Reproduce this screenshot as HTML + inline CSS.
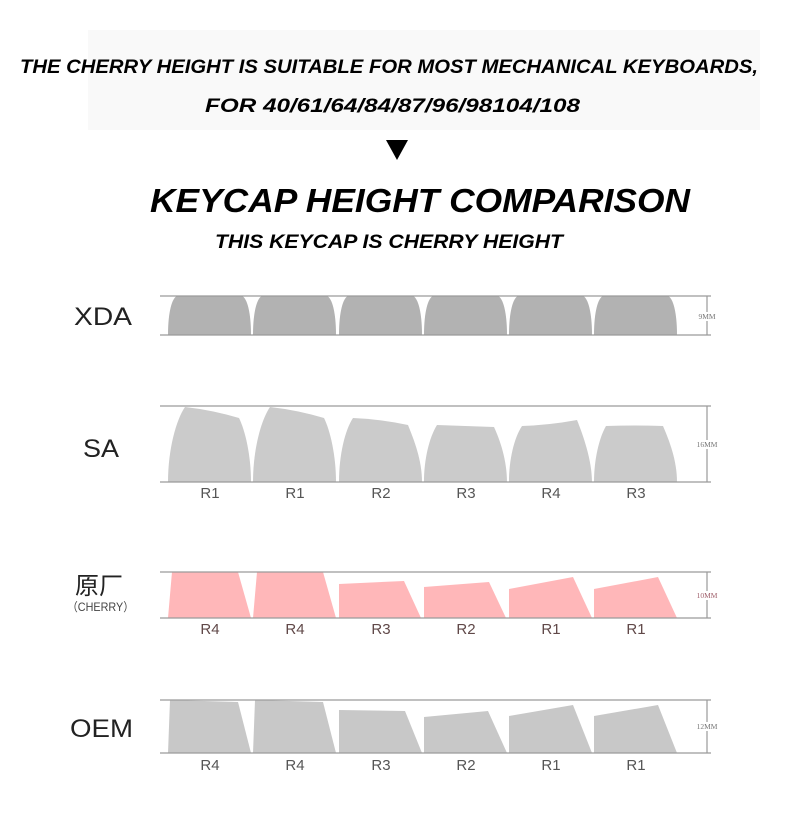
<!DOCTYPE html>
<html><head><meta charset="utf-8"><style>html,body{margin:0;padding:0;background:#fff}svg{display:block}</style></head>
<body>
<svg width="790" height="833" viewBox="0 0 790 833" xmlns="http://www.w3.org/2000/svg">
<rect x="88" y="30" width="672" height="100" fill="#f9f9f9"/>
<g font-family="Liberation Sans, sans-serif" font-weight="bold" font-style="italic" fill="#000">
<text x="20" y="73" font-size="19" textLength="738" lengthAdjust="spacingAndGlyphs">THE CHERRY HEIGHT IS SUITABLE FOR MOST MECHANICAL KEYBOARDS,</text>
<text x="205" y="112" font-size="19" textLength="375" lengthAdjust="spacingAndGlyphs">FOR 40/61/64/84/87/96/98104/108</text>
<text x="150" y="212" font-size="33" textLength="540" lengthAdjust="spacingAndGlyphs">KEYCAP HEIGHT COMPARISON</text>
<text x="215" y="248" font-size="19" textLength="348" lengthAdjust="spacingAndGlyphs">THIS KEYCAP IS CHERRY HEIGHT</text>
</g>
<polygon points="386,140 408,140 397,160" fill="#000"/>

<g font-family="Liberation Sans, sans-serif" fill="#222">
<text x="74" y="325" font-size="25" textLength="58" lengthAdjust="spacingAndGlyphs">XDA</text>
<text x="83" y="457" font-size="25" textLength="36" lengthAdjust="spacingAndGlyphs">SA</text>
<text x="75" y="594" font-size="24" font-family="Liberation Sans, Noto Sans CJK SC, sans-serif">原厂</text>
<text x="67" y="611" font-size="12" fill="#444" font-family="Liberation Sans, Noto Sans CJK SC, sans-serif" textLength="67" lengthAdjust="spacingAndGlyphs">（CHERRY）</text>
<text x="70" y="737" font-size="25" textLength="63" lengthAdjust="spacingAndGlyphs">OEM</text>
</g>

<!-- XDA -->
<g fill="#b2b2b2">
<path id="x1" d="M168,335 C168,312 172,298 177,296 L242,296 C247,298 251,312 251,335 Z"/>
<use href="#x1" x="85"/><use href="#x1" x="171"/><use href="#x1" x="256"/><use href="#x1" x="341"/><use href="#x1" x="426"/>
</g>
<!-- SA -->
<g fill="#cbcbcb">
<path d="M168,482 C168,450 176,420 185,407 Q212,410 239,418 C245,430 251,455 251,482 Z"/>
<path d="M253,482 C253,450 261,420 270,407 Q297,410 324,418 C330,430 336,455 336,482 Z"/>
<path d="M339,482 C339,455 345,430 353,418 Q380,419 408,425 C414,440 422,460 422,482 Z"/>
<path d="M424,482 C424,460 429,438 437,425 Q465,426 494,427 C500,440 507,460 507,482 Z"/>
<path d="M509,482 C509,460 514,438 522,426 Q550,425 577,420 C583,435 592,460 592,482 Z"/>
<path d="M594,482 C594,460 599,438 606,426 Q635,425 663,426 C669,440 677,460 677,482 Z"/>
</g>
<!-- Cherry -->
<g fill="#ffb7b9">
<polygon points="168,618 172,572 238,572 251,618"/>
<polygon points="253,618 257,572 323,572 336,618"/>
<polygon points="339,618 339,584 404,581 421,618"/>
<polygon points="424,618 424,587 489,582 506,618"/>
<polygon points="509,618 509,589 573,577 592,618"/>
<polygon points="594,618 594,589 658,577 677,618"/>
</g>
<!-- OEM -->
<g fill="#c8c8c8">
<polygon points="168,753 170,700 238,702 251,753"/>
<polygon points="253,753 255,700 323,702 336,753"/>
<polygon points="339,753 339,710 405,711 422,753"/>
<polygon points="424,753 424,717 488,711 507,753"/>
<polygon points="509,753 509,716 573,705 592,753"/>
<polygon points="594,753 594,716 658,705 677,753"/>
</g>

<g stroke="#9a9a9a" stroke-width="1.2">
<line x1="160" y1="296" x2="711" y2="296"/><line x1="160" y1="335" x2="711" y2="335"/><line x1="707" y1="296" x2="707" y2="335"/>
<line x1="160" y1="406" x2="711" y2="406"/><line x1="160" y1="482" x2="711" y2="482"/><line x1="707" y1="406" x2="707" y2="482"/>
<line x1="160" y1="572" x2="711" y2="572"/><line x1="160" y1="618" x2="711" y2="618"/><line x1="707" y1="572" x2="707" y2="618"/>
<line x1="160" y1="700" x2="711" y2="700"/><line x1="160" y1="753" x2="711" y2="753"/><line x1="707" y1="700" x2="707" y2="753"/>
</g>
<g font-family="Liberation Serif, serif" font-size="7.5" text-anchor="middle">
<rect x="695" y="312" width="24" height="9" fill="#fff"/><text x="707" y="319" fill="#777">9MM</text>
<rect x="693" y="440" width="28" height="9" fill="#fff"/><text x="707" y="447" fill="#777">16MM</text>
<rect x="693" y="591" width="28" height="9" fill="#fff"/><text x="707" y="598" fill="#a0606c">10MM</text>
<rect x="693" y="722" width="28" height="9" fill="#fff"/><text x="707" y="729" fill="#777">12MM</text>
</g>

<g font-family="Liberation Sans, sans-serif" font-size="15" fill="#555" text-anchor="middle">
<text x="210" y="498">R1</text><text x="295" y="498">R1</text><text x="381" y="498">R2</text><text x="466" y="498">R3</text><text x="551" y="498">R4</text><text x="636" y="498">R3</text>
<text x="210" y="634" fill="#604848">R4</text><text x="295" y="634" fill="#604848">R4</text><text x="381" y="634" fill="#604848">R3</text><text x="466" y="634" fill="#604848">R2</text><text x="551" y="634" fill="#604848">R1</text><text x="636" y="634" fill="#604848">R1</text>
<text x="210" y="770">R4</text><text x="295" y="770">R4</text><text x="381" y="770">R3</text><text x="466" y="770">R2</text><text x="551" y="770">R1</text><text x="636" y="770">R1</text>
</g>
</svg>
</body></html>
